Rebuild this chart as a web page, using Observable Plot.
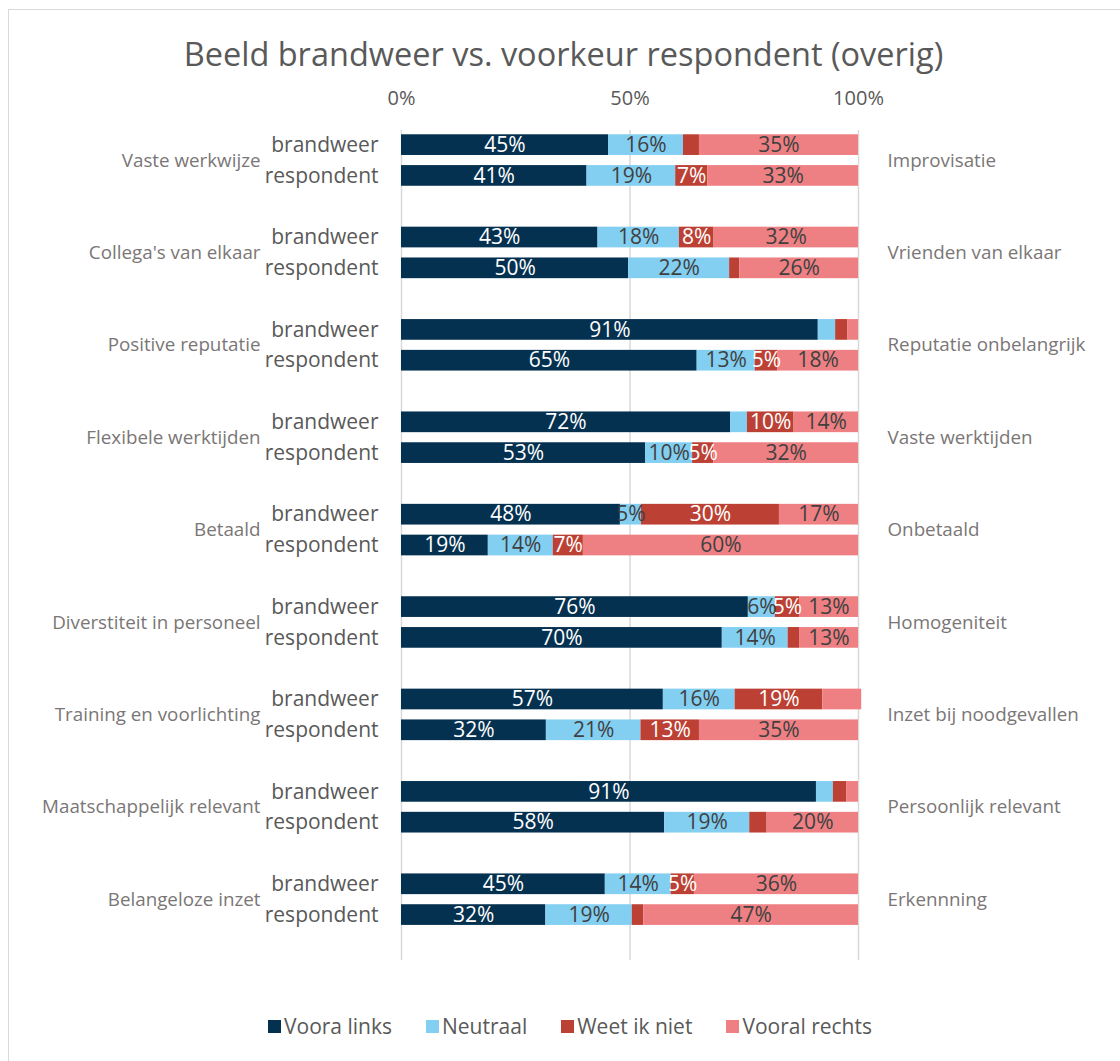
<!DOCTYPE html>
<html>
<head>
<meta charset="utf-8">
<script src="https://cdn.jsdelivr.net/npm/d3@7"></script>
<script src="https://cdn.jsdelivr.net/npm/@observablehq/plot@0.6"></script>
<style>
  html, body { margin: 0; padding: 0; background: #fff; overflow: hidden; }
  body { width: 1120px; height: 1061px; position: relative; font-family: "Open Sans", sans-serif; }
  #frame { position: absolute; left: 8px; top: 9px; width: 1130px; height: 1070px; border: 1.5px solid #d9d9d9; box-sizing: border-box; }
  #title { position: absolute; left: 0; top: 32px; width: 1127px; text-align: center; font-size: 32.5px; color: #595959; line-height: 44px; }
  #chart { position: absolute; left: 0; top: 0; }
  #legend { position: absolute; left: 0; top: 1011px; width: 1140px; display: flex; justify-content: center; gap: 34px; font-size: 21px; color: #595959; line-height: 30px; }
  #legend .item { display: flex; align-items: center; gap: 3px; }
  #legend .sw { width: 13px; height: 13px; display: inline-block; }
</style>
</head>
<body>
<div id="frame"></div>
<div id="title">Beeld brandweer vs. voorkeur respondent (overig)</div>
<div id="chart"></div>
<div id="legend"></div>
<script>
// ---- data ----
const groups = ["Vaste werkwijze", "Collega's van elkaar", "Positive reputatie", "Flexibele werktijden", "Betaald", "Diverstiteit in personeel", "Training en voorlichting", "Maatschappelijk relevant", "Belangeloze inzet"];
const rightLabels = ["Improvisatie", "Vrienden van elkaar", "Reputatie onbelangrijk", "Vaste werktijden", "Onbetaald", "Homogeniteit", "Inzet bij noodgevallen", "Persoonlijk relevant", "Erkennning"];
const types = ["brandweer", "respondent"];
const seriesNames = ["Voora links", "Neutraal", "Weet ik niet", "Vooral rechts"];
const seriesColors = ["#053151", "#82cff2", "#bc4134", "#ee8083"];
// values in order: group1 brandweer, group1 respondent, group2 brandweer, ...
const vooraLinks   = [45.3, 40.6, 43.0, 49.7, 91.2, 64.7, 72.0, 53.4, 47.9, 19.0, 75.9, 70.2, 57.3, 31.7, 90.8, 57.6, 44.6, 31.6];
const neutraal     = [16.4, 19.4, 17.8, 22.1,  3.8, 12.7,  3.7, 10.3,  4.6, 14.2,  5.9, 14.4, 15.7, 20.7,  3.7, 18.6, 14.4, 18.9];
const weetIkNiet   = [ 3.5,  7.0,  7.6,  2.2,  2.7,  4.9, 10.2,  4.6, 30.2,  6.6,  5.3,  2.5, 19.2, 12.8,  2.9,  3.8,  5.1,  2.5];
const vooralRechts = [34.8, 33.0, 31.6, 26.0,  2.3, 17.7, 14.1, 31.7, 17.3, 60.2, 12.9, 12.9,  8.5, 34.8,  2.6, 20.0, 35.9, 47.0];
const axisTicks = [0, 50, 100];
// label not shown in the original
const hiddenLabels = [["Training en voorlichting", "brandweer", "Vooral rechts"]];

// ---- build tables ----
const seriesValues = [vooraLinks, neutraal, weetIkNiet, vooralRechts];
const keyOf = (g, t) => g + "|" + t;
const slots = [];
groups.forEach((g, gi) => { types.forEach(t => slots.push(keyOf(g, t))); slots.push("gap" + gi); });

const data = [];
groups.forEach((g, gi) => types.forEach((t, ti) => seriesNames.forEach((s, si) => {
  const v = seriesValues[si][gi * 2 + ti];
  const hidden = hiddenLabels.some(h => h[0] === g && h[1] === t && h[2] === s);
  data.push({group: g, type: t, key: keyOf(g, t), series: s, value: v, label: (!hidden && Math.round(v) >= 5) ? Math.round(v) + "%" : ""});
})));
const rows = [];
groups.forEach((g, gi) => types.forEach(t => rows.push({group: g, type: t, key: keyOf(g, t), right: rightLabels[gi]})));
const groupRows = groups.map((g, gi) => ({group: g, key: keyOf(g, "brandweer"), right: rightLabels[gi]}));

const lightText = new Set(["Voora links", "Weet ik niet"]);
const stackOpts = {x: "value", y: "key", z: "series", order: seriesNames};

const chart = Plot.plot({
  width: 1120,
  height: 975,
  marginTop: 130,
  marginBottom: 15,
  marginLeft: 401,
  marginRight: 262,
  style: {fontFamily: "'Open Sans', sans-serif", background: "transparent", overflow: "visible"},
  x: {domain: [0, 100], axis: null, label: null},
  y: {type: "band", domain: slots, paddingInner: 0.328, paddingOuter: 0.139, round: false, axis: null},
  color: {domain: seriesNames, range: seriesColors},
  marks: [
    Plot.ruleX(axisTicks, {stroke: "#d9d9d9", strokeWidth: 1.5}),
    Plot.axisX(axisTicks, {anchor: "top", label: null, tickSize: 0, tickPadding: 26, tickFormat: d => d + "%", fontSize: 20, fill: "#595959", lineAnchor: "bottom"}),
    Plot.barX(data, Plot.stackX({...stackOpts, fill: "series"})),
    Plot.text(data, Plot.stackX({...stackOpts, text: d => lightText.has(d.series) ? d.label : "", fill: "white", fontSize: 21})),
    Plot.text(data, Plot.stackX({...stackOpts, text: d => lightText.has(d.series) ? "" : d.label, fill: "#404040", fontSize: 21})),
    Plot.text(rows, {x: 0, y: "key", text: "type", textAnchor: "end", dx: -23, fontSize: 21, fill: "#595959"}),
    Plot.text(groupRows, {x: 0, y: "key", text: "group", textAnchor: "end", dx: -141, dy: 15.4, fontSize: 18.8, fill: "#7a7676"}),
    Plot.text(groupRows, {x: 100, y: "key", text: "right", textAnchor: "start", dx: 29, dy: 15.4, fontSize: 18.8, fill: "#7a7676"})
  ]
});
document.getElementById("chart").appendChild(chart);

const legend = document.getElementById("legend");
seriesNames.forEach((s, i) => {
  const item = document.createElement("div");
  item.className = "item";
  const sw = document.createElement("span");
  sw.className = "sw";
  sw.style.background = seriesColors[i];
  const tx = document.createElement("span");
  tx.textContent = s;
  item.appendChild(sw); item.appendChild(tx);
  legend.appendChild(item);
});
</script>
</body>
</html>
